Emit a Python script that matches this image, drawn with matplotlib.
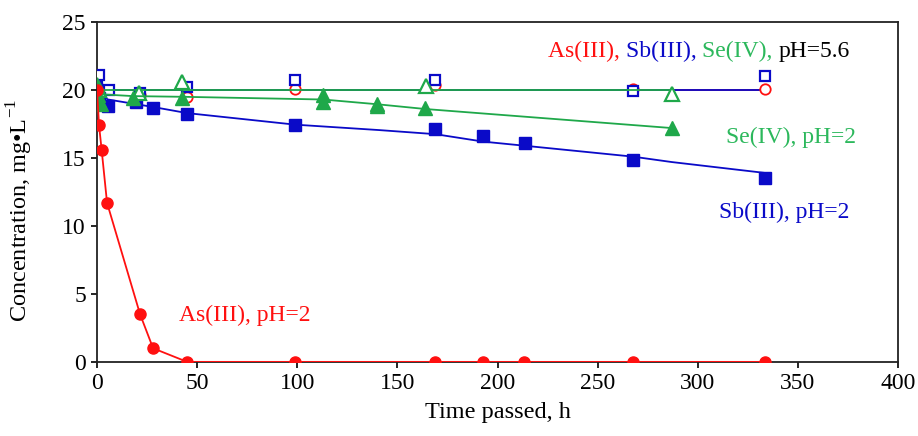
import matplotlib.pyplot as plt

plt.rcParams["font.family"] = ["Liberation Serif", "DejaVu Serif"]
plt.rcParams["mathtext.fontset"] = "custom"
plt.rcParams["mathtext.rm"] = "Liberation Serif"

RED = "#ff1010"
BLUE = "#0a0ac8"
GREEN = "#1fa84a"
GREEN_TEXT = "#2cb85c"

# As(III)
as_ph2_t = [0, 1, 2.3, 5, 21.5, 28, 45, 99, 169, 193, 213, 267.5, 333.5]
as_ph2_c = [20.0, 17.4, 15.6, 11.7, 3.5, 1.0, 0, 0, 0, 0, 0, 0, 0]
as_ph56_t = [0, 21.5, 45, 99, 169, 267.5, 333.5]
as_ph56_c = [20.3, 19.6, 19.5, 20.1, 20.4, 20.1, 20.1]

# Sb(III)
sb_ph2_t = [0, 1, 5.5, 19.5, 28, 45, 99, 169, 193, 213.5, 267.5, 333.5]
sb_ph2_c = [20.0, 19.4, 18.8, 19.1, 18.7, 18.2, 17.4, 17.1, 16.6, 16.1, 14.85, 13.55]
sb_ph2_line_t = [0, 5.5, 28, 45, 99, 141, 169, 193, 213.5, 267.5, 287, 333.5]
sb_ph2_line_c = [19.8, 19.3, 18.75, 18.3, 17.45, 17.05, 16.75, 16.2, 15.9, 15.1, 14.7, 13.9]
sb_ph56_t = [0, 1, 6, 21.5, 45, 99, 169, 267.5, 333.5]
sb_ph56_c = [20.2, 21.1, 20.0, 19.75, 20.2, 20.7, 20.7, 19.9, 21.0]

# Se(IV)
se_ph2_t = [0, 0.5, 1, 2, 18, 42.5, 113, 113, 140, 140, 164, 287]
se_ph2_c = [20.2, 19.6, 19.2, 19.0, 19.4, 19.4, 19.6, 19.1, 19.0, 18.8, 18.7, 17.2]
se_ph2_line_t = [0, 18, 42.5, 113, 140, 164, 287]
se_ph2_line_c = [19.7, 19.55, 19.5, 19.3, 18.95, 18.6, 17.2]
se_ph56_t = [0, 1, 21, 42.5, 164.5, 287]
se_ph56_c = [20.4, 20.0, 19.8, 20.6, 20.3, 19.7]

# constant level drawn for the pH=5.6 runs
ph56_level = 20.0
ph56_end = {"As": 333.5, "Sb": 333.5, "Se": 287}

fig = plt.figure(figsize=(9.18, 4.36), dpi=100)
ax = fig.add_axes([0.1057, 0.170, 0.8725, 0.7795])

lw = 1.3
fs = 17

# As(III)
ax.plot([0, ph56_end["As"]], [ph56_level] * 2, color=RED, lw=lw, zorder=2)
ax.plot(as_ph56_t, as_ph56_c, "o", color=RED, mfc="white", mec=RED,
        ms=7.5, mew=1.3, zorder=3)
ax.plot(as_ph2_t, as_ph2_c, "-o", color=RED, ms=8, lw=lw, zorder=6)

# Sb(III)
ax.plot([0, ph56_end["Sb"]], [ph56_level] * 2, color=BLUE, lw=lw, zorder=2)
ax.plot(sb_ph56_t, sb_ph56_c, "s", color=BLUE, mfc="white", mec=BLUE,
        ms=7.5, mew=1.6, zorder=3)
ax.plot(sb_ph2_line_t, sb_ph2_line_c, "-", color=BLUE, lw=lw, zorder=4)
ax.plot(sb_ph2_t, sb_ph2_c, "s", color=BLUE, ms=8, zorder=4)

# Se(IV)
ax.plot([0, ph56_end["Se"]], [ph56_level] * 2, color=GREEN, lw=lw, zorder=5)
ax.plot(se_ph56_t, se_ph56_c, "^", color=GREEN, mfc="white", mec=GREEN,
        ms=9.5, mew=1.6, zorder=5)
ax.plot(se_ph2_line_t, se_ph2_line_c, "-", color=GREEN, lw=lw, zorder=5)
ax.plot(se_ph2_t, se_ph2_c, "^", color=GREEN, ms=10.5, zorder=5)

ax.set_xlim(0, 400)
ax.set_ylim(0, 25)
ax.set_xticks(range(0, 401, 50))
ax.set_yticks(range(0, 26, 5))
ax.tick_params(labelsize=fs, direction="out", length=4, width=1.2,
               colors="black", pad=4)
for spine in ax.spines.values():
    spine.set_linewidth(1.3)
    spine.set_color("#222222")

ax.set_xlabel("Time passed, h", fontsize=fs + 0.5, labelpad=6)
ax.set_ylabel(r"Concentration, mg•L$^{\mathregular{-1}}$", fontsize=fs + 0.5)
ax.yaxis.set_label_coords(-0.077, 0.445)

ax.text(0.563, 0.914, "As(III), ", color=RED, fontsize=fs,
        transform=ax.transAxes, va="center", ha="left")
ax.annotate("Sb(III), ", xy=(1, 0.5), xycoords=ax.texts[-1], va="center",
            ha="left", color=BLUE, fontsize=fs)
ax.annotate("Se(IV), ", xy=(1, 0.5), xycoords=ax.texts[-1], va="center",
            ha="left", color=GREEN_TEXT, fontsize=fs)
ax.annotate("pH=5.6", xy=(1, 0.5), xycoords=ax.texts[-1], va="center",
            ha="left", color="black", fontsize=fs)

ax.text(346.5, 16.5, "Se(IV), pH=2", color=GREEN_TEXT, fontsize=fs,
        ha="center", va="center")
ax.text(343, 11.0, "Sb(III), pH=2", color=BLUE, fontsize=fs,
        ha="center", va="center")
ax.text(74, 3.4, "As(III), pH=2", color=RED, fontsize=fs,
        ha="center", va="center")

fig.savefig("out.png", dpi=100)
